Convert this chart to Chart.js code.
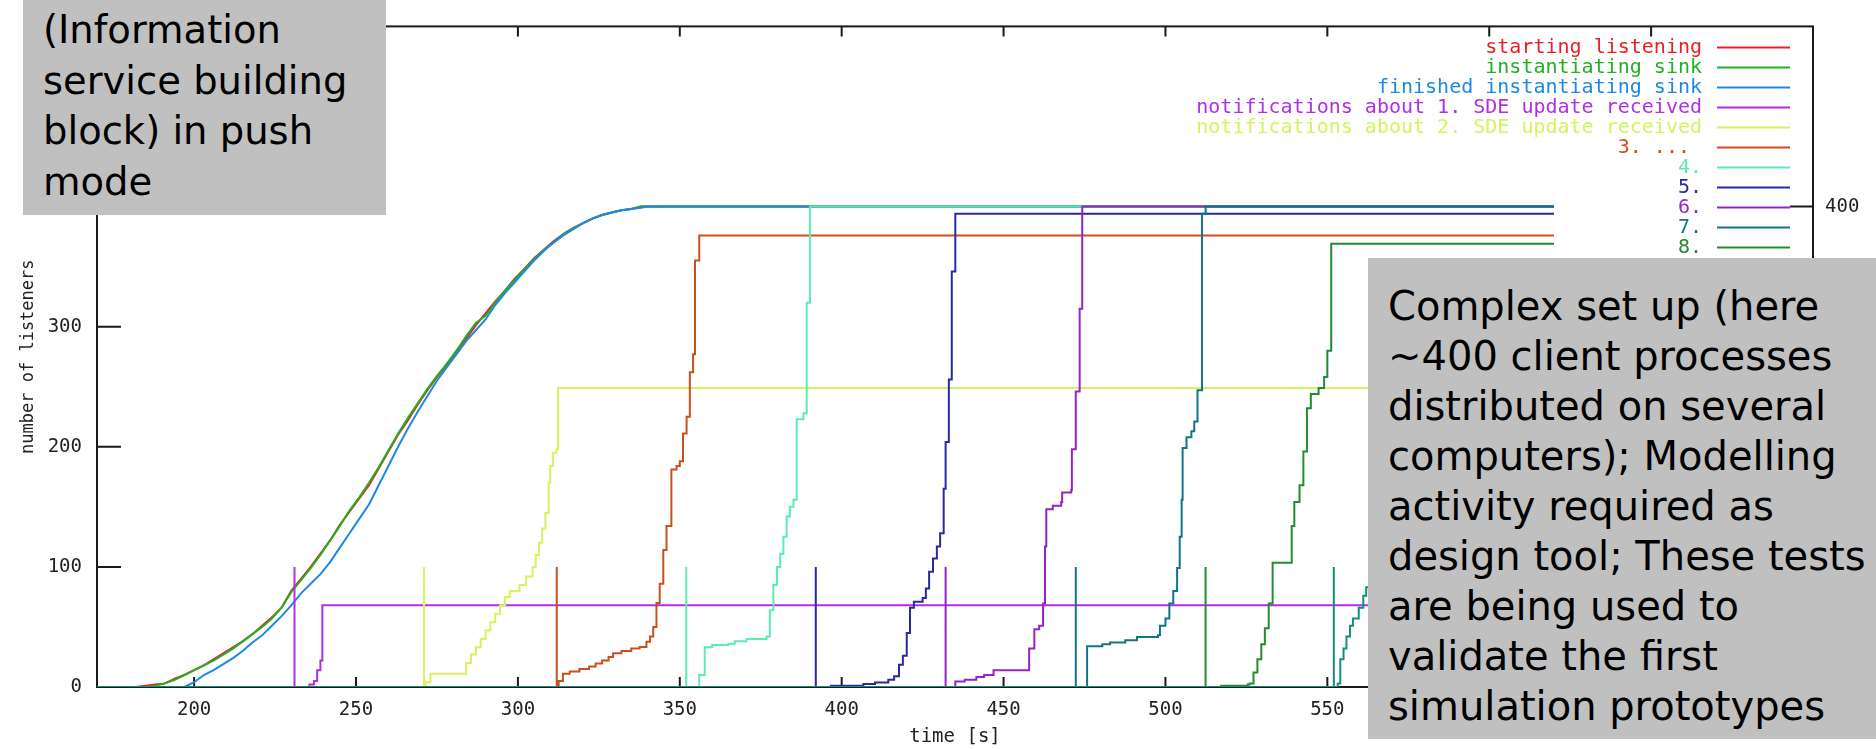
<!DOCTYPE html>
<html>
<head>
<meta charset="utf-8">
<script src="https://cdn.jsdelivr.net/npm/chart.js@4/dist/chart.umd.min.js"></script>
<style>
  html, body { margin: 0; padding: 0; background: #fff; }
  #wrap { position: relative; width: 1876px; height: 749px; overflow: hidden; }
  #myChart { position: absolute; left: 0; top: 0; }
  .note {
    position: absolute; background: #c0c0c0; color: #000; box-sizing: border-box;
    font-family: 'Comic Sans MS', 'DejaVu Sans', sans-serif; white-space: nowrap;
  }
  #noteLeft { left: 23px; top: 0; width: 363px; height: 215px; font-size: 38.5px; line-height: 50.5px; padding: 5px 0 0 20px; }
  #noteRight { left: 1368px; top: 258px; width: 508px; height: 481px; font-size: 40px; line-height: 50px; padding: 23px 0 0 20px; }
</style>
</head>
<body>
<div id="wrap">
  <canvas id="myChart" width="1876" height="749"></canvas>
  <div class="note" id="noteLeft">(Information<br>service building<br>block) in push<br>mode</div>
  <div class="note" id="noteRight">Complex set up (here<br>~400 client processes<br>distributed on several<br>computers); Modelling<br>activity required as<br>design tool; These tests<br>are being used to<br>validate the first<br>simulation prototypes</div>
</div>
<script>
// axis ticks
const xTicks = [200, 250, 300, 350, 400, 450, 500, 550, 600, 650, 700];
const yTicks = [0, 100, 200, 300, 400, 500];
const y2Ticks = [400];

const seriesLabels = [
  'starting listening',
  'instantiating sink',
  'finished instantiating sink',
  'notifications about 1. SDE update received',
  'notifications about 2. SDE update received',
  '3. ... ', '4.', '5.', '6.', '7.', '8.', '9.'
];

// [time s, number of listeners]
const startingListening = [[170,0],[182,0],[185,1],[188,2],[191,3],[194,7],[197,10],[200,14],[203,18],[206,23],[209,28],[212,33],[215,38],[218,44],[221,51],[224,58],[227,66],[230,80],[233,90],[236,100],[239,111],[242,122],[245,135],[248,146],[251,157],[254,168],[257,182],[260,196],[263,210],[266,222],[269,235],[272,247],[275,258],[278,268],[281,279],[284,290],[287,301],[290,311],[293,321],[296,330],[299,340],[302,348],[305,357],[308,364],[311,371],[314,377],[317,382],[320,386],[323,390],[326,393],[329,395],[332,397],[335,398],[338,400],[620,400]];
const instantiatingSink = [[170,0],[185,0],[188,1],[191,3],[194,6],[197,10],[200,14],[203,18],[206,22],[209,27],[212,32],[215,38],[218,44],[221,50],[224,57],[227,66],[230,79],[233,89],[236,99],[239,110],[242,122],[245,134],[248,147],[251,158],[254,170],[257,183],[260,197],[263,211],[266,224],[269,236],[272,248],[275,259],[278,269],[281,280],[284,292],[287,303],[290,309],[293,320],[296,330],[299,339],[302,348],[305,356],[308,364],[311,370],[314,377],[317,382],[320,386],[323,390],[326,393],[329,395],[332,397],[335,398],[338,400],[620,400]];
const finishedSink = [[170,0],[197,0],[200,4],[203,10],[206,14],[209,19],[212,24],[215,30],[218,37],[221,43],[224,51],[227,59],[230,68],[233,78],[236,86],[239,94],[242,104],[245,116],[248,128],[251,140],[254,152],[257,168],[260,184],[263,200],[266,215],[269,229],[272,242],[275,255],[278,266],[281,277],[284,288],[287,297],[290,306],[293,318],[296,328],[299,337],[302,346],[305,355],[308,363],[311,370],[314,376],[317,381],[320,386],[323,390],[326,393],[329,395],[332,397],[335,398],[338,399],[340,400],[620,400]];
const sde1 = [[170,0],[231,0],[231,100],[231,0],[235.6,2],[237,5],[238,14],[239,22],[239.6,68],[620,68]];
const sde2 = [[170,0],[271,0],[271,100],[271,0],[271.5,4],[273,11],[284,20],[285.5,27],[287,33],[288.5,40],[290,47],[291.5,54],[293,61],[294.5,68],[296,75],[297.5,80],[300.5,85],[302.5,92],[304.5,100],[305.5,110],[306.5,120],[307.5,132],[308.5,145],[309.5,170],[310,184],[310.8,195],[311.9,198],[312.4,249],[620,249]];
const sde3 = [[170,0],[312,0],[312,100],[312,0],[312.6,5],[313.9,11],[316,13],[319,15],[322,17],[324,19.5],[326,22],[328,25],[329.4,28],[332,30],[335,32],[337.6,33.4],[339.7,37.6],[340.8,42],[341.8,50],[342.8,70],[343.8,86],[344.9,114],[345.9,134],[347.4,181],[349,184],[350,188],[351,211],[352.1,225],[353.1,262],[354.1,277],[354.7,355],[356,376],[620,376]];
const sde4 = [[170,0],[352,0],[352,100],[352,0],[356,10],[357.7,33],[360,35],[365,36],[367,38],[370.6,40],[376.8,42],[377.8,64],[378.9,85],[380,100],[381,111],[382,125],[383,142],[384,150],[385.1,156],[386.1,223],[388.2,228],[389.2,320],[390.2,400],[620,400]];
const sde5 = [[170,0],[392,0],[392,100],[392,0],[396.7,1],[406.7,2.5],[410.3,3.7],[414.4,6],[416.2,9],[417.7,18.5],[418.9,26],[420.1,45],[421.1,66],[422.3,71],[425,74],[426,82],[427,96],[428.2,107],[429.4,117],[430.4,128],[431.5,165],[432.1,204],[433.1,256],[434,346],[435.1,394],[620,394]];
const sde6 = [[170,0],[432.1,0],[432.1,100],[432.1,0],[435.1,4.6],[438,6],[441.6,8.3],[444,10],[446.9,14],[457.9,32],[459.5,48],[461,51],[462.2,69.5],[462.8,117],[463.2,148],[465.2,151],[467.8,154],[468.1,162],[470.9,164],[471.1,198],[472.3,246],[473.5,315],[474.3,400],[620,400]];
const sde7 = [[170,0],[472.3,0],[472.3,100],[472.3,0],[475.8,34],[480.5,35.5],[482.9,37],[487.6,39],[491.2,41.7],[497.7,43],[498.3,51],[500,57],[501.2,69.5],[502.4,80],[503.6,99],[504.4,125],[505,156],[505.3,199],[506.5,208],[508,213],[508.9,221],[509.9,247],[511.3,394],[512.4,400],[620,400]];
const sde8 = [[170,0],[512.4,0],[512.4,100],[512.4,0],[517.2,1],[525.4,2],[526,3],[527.2,12],[528.4,23],[529.6,35.5],[530.7,49],[531.9,69.5],[533.1,103.5],[539,134],[539.8,154],[541.4,168],[542.6,196],[543.7,232],[544.9,244],[547.3,249],[549,258],[550,280],[551.2,369],[620,369]];
const sde9 = [[170,0],[552,0],[552,100],[552,0],[553.2,3],[554,23],[555,32],[555.9,42],[557,51],[557.9,57],[559.7,66],[561.1,76],[562,83],[563,88]];

const series = [startingListening, instantiatingSink, finishedSink, sde1, sde2, sde3, sde4, sde5, sde6, sde7, sde8, sde9];
const seriesColors = ['#e8202a', '#22b022', '#1e88e5', '#b22ee6', '#d6f25c', '#c8501e',
                      '#5cecb0', '#2a2aa0', '#9424c4', '#127488', '#228c30', '#10907a'];

const mono = 'DejaVu Sans Mono';

// frame, inward ticks and the gnuplot style key
const gnuplotFrame = {
  id: 'gnuplotFrame',
  beforeDatasetsDraw(chart) {
    const { ctx, chartArea: a, scales } = chart;
    ctx.save();
    ctx.strokeStyle = '#1a1a1a';
    ctx.lineWidth = 2;
    ctx.strokeRect(a.left, a.top, a.right - a.left, a.bottom - a.top);
    ctx.beginPath();
    xTicks.forEach(v => {
      const px = scales.x.getPixelForValue(v);
      ctx.moveTo(px, a.bottom); ctx.lineTo(px, a.bottom - 10);
      ctx.moveTo(px, a.top); ctx.lineTo(px, a.top + 10);
    });
    yTicks.forEach(v => {
      const py = scales.y.getPixelForValue(v);
      ctx.moveTo(a.left, py); ctx.lineTo(a.left + 24, py);
    });
    y2Ticks.forEach(v => {
      const py = scales.y2.getPixelForValue(v);
      ctx.moveTo(a.right, py); ctx.lineTo(a.right - 23, py);
    });
    ctx.stroke();
    ctx.restore();
  },
  afterDatasetsDraw(chart) {
    const { ctx, chartArea: a } = chart;
    ctx.save();
    ctx.font = '20px "' + mono + '"';
    ctx.textAlign = 'right';
    ctx.textBaseline = 'middle';
    ctx.lineWidth = 2;
    chart.data.datasets.forEach((ds, i) => {
      const y = a.top + 21 + i * 20;
      ctx.fillStyle = ds.borderColor;
      ctx.fillText(ds.label, a.right - 111, y);
      ctx.strokeStyle = ds.borderColor;
      ctx.beginPath();
      ctx.moveTo(a.right - 96, y);
      ctx.lineTo(a.right - 23, y);
      ctx.stroke();
    });
    ctx.restore();
  }
};

var ctx = document.getElementById('myChart').getContext('2d');
var chart = new Chart(ctx, {
  // The type of chart we want to create
  type: 'line',

  // The data for our dataset
  data: {
    datasets: series.map((s, i) => ({
      label: seriesLabels[i],
      data: s.map(p => ({ x: p[0], y: p[1] })),
      borderColor: seriesColors[i],
      backgroundColor: seriesColors[i],
      borderWidth: 2,
      pointRadius: 0,
      fill: false,
      stepped: i > 2,
      tension: 0,
      order: series.length - i
    }))
  },

  // Configuration options go here
  options: {
    responsive: false,
    animation: false,
    events: [],
    layout: { padding: { top: 7, left: 0, right: 0, bottom: 0 } },
    plugins: { legend: { display: false }, tooltip: { enabled: false } },
    scales: {
      x: {
        type: 'linear', min: 170, max: 700,
        grid: { display: false, drawTicks: false },
        border: { display: false },
        afterBuildTicks: s => { s.ticks = xTicks.map(v => ({ value: v })); },
        afterFit: s => { s.height = 62; },
        ticks: { autoSkip: false, maxRotation: 0, padding: 12, color: '#222', font: { family: mono, size: 19 } },
        title: { display: true, text: 'time [s]', color: '#222', font: { family: mono, size: 19 }, padding: { top: 0, bottom: 1 } }
      },
      y: {
        type: 'linear', position: 'left', min: 0, max: 550,
        grid: { display: false, drawTicks: false },
        border: { display: false },
        afterBuildTicks: s => { s.ticks = yTicks.map(v => ({ value: v })); },
        afterFit: s => { s.width = 97; },
        ticks: { padding: 15, color: '#222', font: { family: mono, size: 19 } },
        title: { display: true, text: 'number of listeners', color: '#222', font: { family: mono, size: 17 }, padding: { top: 18, bottom: 0 } }
      },
      y2: {
        type: 'linear', position: 'right', min: 0, max: 550,
        grid: { display: false, drawTicks: false },
        border: { display: false },
        afterBuildTicks: s => { s.ticks = y2Ticks.map(v => ({ value: v })); },
        afterFit: s => { s.width = 63; },
        ticks: { padding: 12, color: '#222', font: { family: mono, size: 19 } }
      }
    }
  },
  plugins: [gnuplotFrame]
});
</script>
</body>
</html>
